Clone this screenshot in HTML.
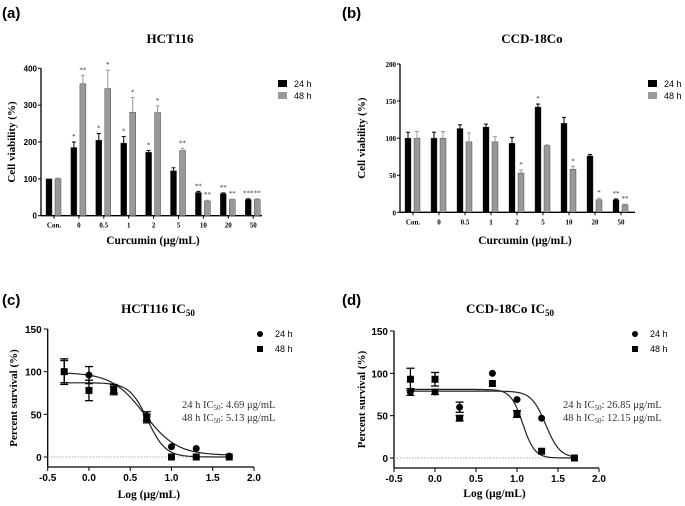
<!DOCTYPE html>
<html><head><meta charset="utf-8">
<style>
html,body{margin:0;padding:0;background:#fff;}
svg{display:block;font-family:"Liberation Serif",serif;}
.sans{font-family:"Liberation Sans",sans-serif;}
</style></head>
<body>
<svg id="fig" width="685" height="506" viewBox="0 0 685 506"></svg>
<script>
// ---- Panel (a) data ----
const catsA = ["Con.","0","0.5","1","2","5","10","20","50"];
const a24 = [100,185,205,197,172,122,63,60,44];
const a24Err = [0,15,18,18,5,8,3,2,2];
const a48 = [100,358,345,281,280,177,40,44,44];
const a48Err = [2,23,50,40,18,6,2,1,2];
const a24Star = ["","*","*","*","*","","**","**","***"];
const a48Star = ["","**","*","*","*","**","**","**","**"];
const ticksA = [0,100,200,300,400];
// ---- Panel (b) data ----
const catsB = ["Con.","0","0.5","1","2","5","10","20","50"];
const b24 = [100,100,113,115,93,142,120,76,17];
const b24Err = [8,8,5,4,8,4,8,2,1];
const b48 = [100,100,95,95,53,90,58,17,10];
const b48Err = [9,9,12,7,4,1,4,2,1];
const b24Star = ["","","","","","*","","","**"];
const b48Star = ["","","","","*","","*","*","**"];
const ticksB = [0,50,100,150,200];
// ---- Panel (c) data ----
const logX = [-0.3,0,0.3,0.7,1,1.3,1.7];
const c24 = [100,96,80,48,12,10,1];
const c24Err = [15,10,5,5,0,0,0];
const c48 = [100,78,78,45,0,0,0];
const c48Err = [13,12,5,5,0,0,0];
const c24Fit = [99,2,0.67,2.2]; // top,bottom,logIC50,hill
const c48Fit = [87,0,0.71,4];
// ---- Panel (d) data ----
const d24 = [78,78,60,100,69,47,0];
const d24Err = [4,3,6,0,0,0,0];
const d48 = [93,93,47,88,52,8,0];
const d48Err = [13,8,3,0,4,0,0];
const d24Fit = [79,0,1.35,5];
const d48Fit = [81,0,1.07,6];
const ticksX = [-0.5,0,0.5,1,1.5,2];
const ticksY = [0,50,100,150];

const NS="http://www.w3.org/2000/svg";
const svg=document.getElementById('fig');
function el(tag,attrs,parent,text){const e=document.createElementNS(NS,tag);for(const k in attrs)e.setAttribute(k,attrs[k]);if(text!==undefined)e.textContent=text;(parent||svg).appendChild(e);return e;}

function panelLabel(x,y,t){const e=el('text',{x:x,y:y,'font-size':15,'font-weight':'bold',class:'sans'},svg,t);

}

function barPanel(o){
  const g=el('g',{});
  
  
  const ys=v=>o.y0-(v/o.ymax)*(o.y0-o.ytop);
  const xc=i=>o.x0+i*o.step;
  const t=el('text',{x:o.titleX,y:43,'font-size':13,'font-weight':'bold','text-anchor':'middle'},g,o.title);
  
  
  // axes
  el('line',{x1:o.ax,y1:o.ytop,x2:o.ax,y2:o.y0,stroke:'#000','stroke-width':1.3},g);
  el('line',{x1:o.ax,y1:o.y0,x2:o.axEnd,y2:o.y0,stroke:'#000','stroke-width':1.3},g);
  o.ticks.forEach(v=>{
    el('line',{x1:o.ax-3,y1:ys(v),x2:o.ax,y2:ys(v),stroke:'#000'},g);
    const tl=el('text',{x:o.ax-4,y:ys(v)+3,'font-size':o.tfs,'font-weight':'bold','text-anchor':'end',class:o.tcls},g,String(v));
    
    
  });
  o.cats.forEach((c,i)=>{
    el('line',{x1:xc(i),y1:o.y0,x2:xc(i),y2:o.y0+3,stroke:'#000'},g);
    const tl=el('text',{x:xc(i),y:o.y0+12,'font-size':7,'font-weight':'bold','text-anchor':'middle'},g,c);
    
    
    [[o.s24,o.e24,o.st24,'#000',-5.5],[o.s48,o.e48,o.st48,'#999',3.5]].forEach(([s,e,st,col,off],k)=>{
      const bx=xc(i)+off-2.5,bw=6,top=ys(s[i]);
      const r=el('rect',{x:bx,y:top,width:bw,height:o.y0-top,fill:col,stroke:'#333','stroke-width':0.4},g);
      
      
      const et=ys(s[i]+e[i]);
      if(e[i]>0){el('line',{x1:bx+bw/2,y1:top,x2:bx+bw/2,y2:et,stroke:col,'stroke-width':1},g);
        el('line',{x1:bx+1,y1:et,x2:bx+bw-1,y2:et,stroke:col,'stroke-width':1},g);}
      if(st[i]){const sl=el('text',{x:bx+bw/2,y:et-3,'font-size':7,'text-anchor':'middle',fill:'#333'},g,st[i]);
        
        }
    });
  });
  const yl=el('text',{transform:`translate(${o.ylx},${(o.ytop+o.y0)/2}) rotate(-90)`,'font-size':11,'font-weight':'bold','text-anchor':'middle'},g,'Cell viability (%)');
  
  
  const xl=el('text',{x:o.xlx,y:244,'font-size':11.5,'font-weight':'bold','text-anchor':'middle'},g,'Curcumin (\u03bcg/mL)');
  
  
  [['24 h','#000',84],['48 h','#999',96]].forEach(([t,c,y])=>{
    const lg=el('g',{},g);
    
    
    el('rect',{x:o.legX,y:y-4,width:9,height:7,fill:c},lg);
    el('text',{x:o.legX+16,y:y+3,'font-size':9,class:'sans'},lg,t);
  });
}

function curvePanel(o){
  const g=el('g',{});
  
  
  const xs=v=>o.ax+(v+0.5)/2.5*(o.axR-o.ax);
  const ys=v=>o.y0-(v/150)*(o.y0-o.ytop);
  const t=el('text',{x:o.titleX,y:313,'font-size':13,'font-weight':'bold','text-anchor':'middle'},g);
  
  
  t.textContent=o.title;
  el('tspan',{'font-size':9,dy:3},t,'50');
  el('line',{x1:o.ax,y1:o.ytop,x2:o.ax,y2:o.y0+10,stroke:'#000','stroke-width':1.3},g);
  el('line',{x1:o.ax,y1:o.y0+10,x2:o.axR,y2:o.y0+10,stroke:'#000','stroke-width':1.3},g);
  el('line',{x1:o.ax,y1:o.y0,x2:xs(1.5)+8,y2:o.y0,stroke:'#aaa','stroke-dasharray':'1.5,1.5'},g);
  ticksY.forEach(v=>{
    el('line',{x1:o.ax-4,y1:ys(v),x2:o.ax,y2:ys(v),stroke:'#000'},g);
    const tl=el('text',{x:o.ax-6,y:ys(v)+4,'font-size':10,'font-weight':'bold','text-anchor':'end',class:'sans'},g,String(v));
    
    
  });
  ticksX.forEach(v=>{
    el('line',{x1:xs(v),y1:o.y0+10,x2:xs(v),y2:o.y0+14,stroke:'#000'},g);
    const tl=el('text',{x:xs(v),y:o.y0+24,'font-size':10,'font-weight':'bold','text-anchor':'middle',class:'sans'},g,v.toFixed(1));
    
    
  });
  [o.f24,o.f48].forEach((f,k)=>{
    let d='';for(let x=-0.3;x<=1.7001;x+=0.02){const y=f[1]+(f[0]-f[1])/(1+Math.pow(10,(x-f[2])*f[3]));d+=(d?'L':'M')+xs(x).toFixed(1)+','+ys(y).toFixed(1);}
    const p=el('path',{d:d,fill:'none',stroke:'#222','stroke-width':1.2},g);
    
    
  });
  [[o.d24,o.e24,0],[o.d48,o.e48,1]].forEach(([d,e,sq])=>{
    logX.forEach((x,i)=>{
      const cx=xs(x),cy=ys(d[i]);
      if(e[i]>0){el('line',{x1:cx,y1:ys(d[i]-e[i]),x2:cx,y2:ys(d[i]+e[i]),stroke:'#000','stroke-width':1.3},g);
        [d[i]-e[i],d[i]+e[i]].forEach(v=>el('line',{x1:cx-4,y1:ys(v),x2:cx+4,y2:ys(v),stroke:'#000','stroke-width':1.3},g));}
      const m=sq?el('rect',{x:cx-3.5,y:cy-3.5,width:7,height:7,fill:'#000'},g):el('circle',{cx:cx,cy:cy,r:3.5,fill:'#000'},g);
      
      
    });
  });
  const yl=el('text',{transform:`translate(${o.ylx},${(o.ytop+o.y0)/2+5}) rotate(-90)`,'font-size':11,'font-weight':'bold','text-anchor':'middle'},g,'Percent survival (%)');
  
  
  const xl=el('text',{x:(o.ax+o.axR)/2-2,y:o.xly,'font-size':11.5,'font-weight':'bold','text-anchor':'middle'},g,'Log (\u03bcg/mL)');
  
  
  [['24 h',334,0],['48 h',349,1]].forEach(([t,y,sq])=>{
    const lg=el('g',{},g);
    
    
    if(sq)el('rect',{x:o.legX-3,y:y-3,width:6,height:6,fill:'#000'},lg);else el('circle',{cx:o.legX,cy:y,r:3,fill:'#000'},lg);
    el('text',{x:o.legX+15,y:y+3,'font-size':9,class:'sans'},lg,t);
  });
  o.ic.forEach((s,k)=>{
    const t=el('text',{x:o.icX,y:408+k*13,'font-size':10.5,fill:'#333'},g);
    
    
    t.textContent=s[0]+' IC';
    el('tspan',{'font-size':7,dy:2},t,'50');
    el('tspan',{dy:-2},t,': '+s[1]+' \u03bcg/mL');
  });
}

panelLabel(2,18,'(a)');panelLabel(342,18,'(b)');panelLabel(2,305,'(c)');panelLabel(342,305,'(d)');

barPanel({name:'panel-a-hct116-viability',title:'HCT116',titleX:170,cats:catsA,s24:a24,e24:a24Err,s48:a48,e48:a48Err,st24:a24Star,st48:a48Star,
  ticks:ticksA,ymax:400,ytop:68.3,y0:215.7,ax:41,axEnd:262,x0:54,step:24.9,tfs:8,tcls:'sans',ylx:15,xlx:153,legX:278});
barPanel({name:'panel-b-ccd18co-viability',title:'CCD-18Co',titleX:532,cats:catsB,s24:b24,e24:b24Err,s48:b48,e48:b48Err,st24:b24Star,st48:b48Star,
  ticks:ticksB,ymax:200,ytop:64,y0:212.3,ax:400,axEnd:635,x0:413,step:26,tfs:7,tcls:'',ylx:365,xlx:525,legX:648});
curvePanel({name:'panel-c-hct116-ic50',title:'HCT116 IC',titleX:158,ax:47.7,axR:254,ytop:329,y0:457,ylx:17,xly:498,legX:260,icX:182,
  d24:c24,e24:c24Err,d48:c48,e48:c48Err,f24:c24Fit,f48:c48Fit,ic:[['24 h','4.69'],['48 h','5.13']]});
curvePanel({name:'panel-d-ccd18co-ic50',title:'CCD-18Co IC',titleX:510,ax:394,axR:599,ytop:331,y0:458,ylx:365,xly:497,legX:635,icX:563,
  d24:d24,e24:d24Err,d48:d48,e48:d48Err,f24:d24Fit,f48:d48Fit,ic:[['24 h','26.85'],['48 h','12.15']]});
</script>
</body></html>
